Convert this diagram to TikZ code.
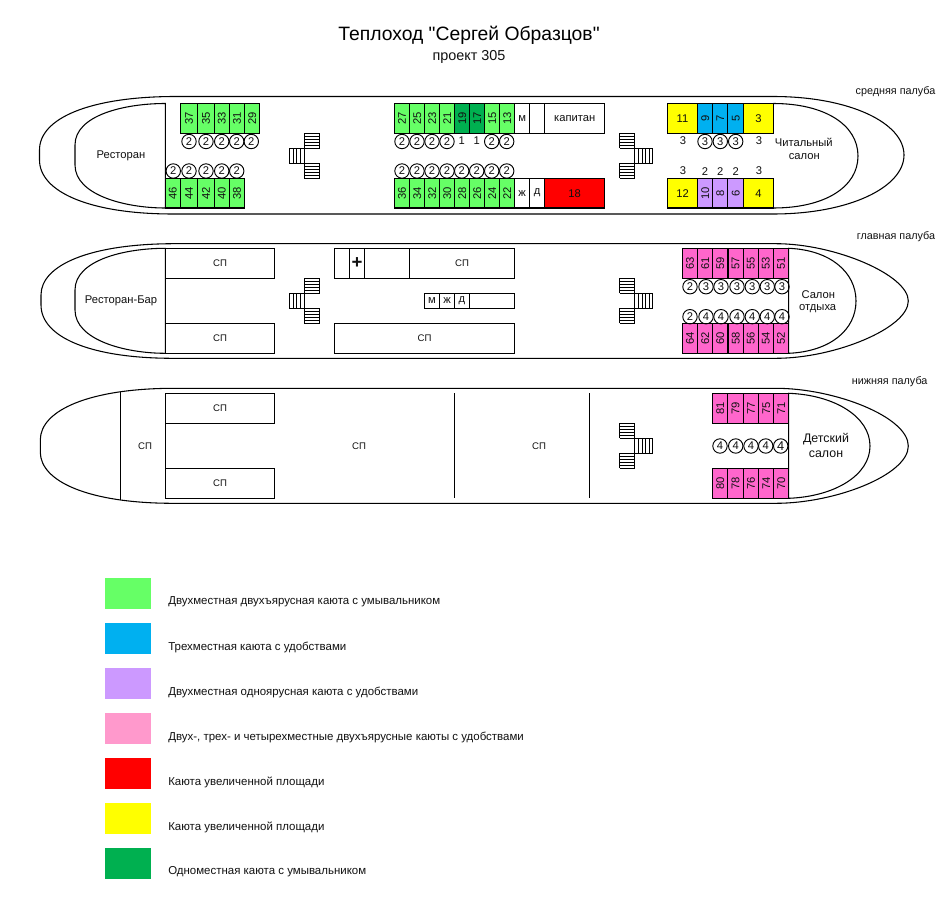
\documentclass[tikz,border=0pt]{standalone}
\usepackage{fontspec}
\setmainfont{Liberation Sans}
\newfontfamily\plainquotes{Liberation Sans}
\definecolor{cgreen}{HTML}{66FF66}
\definecolor{cdark}{HTML}{00B050}
\definecolor{cblue}{HTML}{00B0F0}
\definecolor{cviolet}{HTML}{CC99FF}
\definecolor{cpink}{HTML}{FF99CC}
\definecolor{cmag}{HTML}{FF66CC}
\definecolor{cred}{HTML}{FF0000}
\definecolor{cyel}{HTML}{FFFF00}
\definecolor{ink}{HTML}{111111}
\newcommand{\spt}{{\fontsize{7.2pt}{9pt}\selectfont СП}}
\tikzset{
  wall/.style={draw=black,line width=0.8pt},
  hull/.style={draw=black,line width=0.8pt},
  lbl/.style={inner sep=0pt,text=ink,font=\fontsize{8.4pt}{10pt}\selectfont,align=center},
  seat/.style={circle,draw=black,line width=0.7pt,minimum size=10.8pt,inner sep=0pt,text=ink,font=\fontsize{8.4pt}{10pt}\selectfont},
  deckname/.style={inner sep=0pt,text=ink,font=\fontsize{8.1pt}{10pt}\selectfont},
  legendtext/.style={inner sep=0pt,anchor=west,text=ink,font=\fontsize{8.6pt}{10pt}\selectfont},
  rung/.style={draw=black,line width=0.6pt},
}
% one cabin: name, x0, x1, y0, y1, fill, rotation, text
\newcommand{\cab}[8]{\draw[wall,fill=#6] (#2,#4) rectangle (#3,#5);
  \node[lbl,rotate=#7] (#1) at ({(#2+#3)/2},{(#4+#5)/2}) {#8};}
\newcommand{\stairL}[1]{% cross-run to the left
  \foreach \k in {0,1,2,3,4,5} {
    \draw[rung] (304.3,#1+\k*3) -- (319.7,#1+\k*3);
    \draw[rung] (304.3,#1+30+\k*3) -- (319.7,#1+30+\k*3);}
  \draw[rung] (304.3,#1) -- (304.3,#1+15) (319.7,#1) -- (319.7,#1+15);
  \draw[rung] (304.3,#1+30) -- (304.3,#1+45) (319.7,#1+30) -- (319.7,#1+45);
  \foreach \k in {0,1,2,3,4} {\draw[rung] (289.3+\k*3.75,#1+15) -- (289.3+\k*3.75,#1+30);}
  \draw[rung] (289.3,#1+15) -- (304.3,#1+15) (289.3,#1+30) -- (304.3,#1+30);}
\newcommand{\stairR}[1]{% cross-run to the right
  \foreach \k in {0,1,2,3,4,5} {
    \draw[rung] (619.5,#1+\k*3) -- (634.7,#1+\k*3);
    \draw[rung] (619.5,#1+30+\k*3) -- (634.7,#1+30+\k*3);}
  \draw[rung] (619.5,#1) -- (619.5,#1+15) (634.7,#1) -- (634.7,#1+15);
  \draw[rung] (619.5,#1+30) -- (619.5,#1+45) (634.7,#1+30) -- (634.7,#1+45);
  \foreach \k in {0,1,2,3,4,5} {\draw[rung] (634.7+\k*3.6,#1+15) -- (634.7+\k*3.6,#1+30);}
  \draw[rung] (634.7,#1+15) -- (652.7,#1+15) (634.7,#1+30) -- (652.7,#1+30);}
\begin{document}
\begin{tikzpicture}[x=0.75pt,y=-0.75pt]
\useasboundingbox (0,0) rectangle (939,924);
\fill[white] (0,0) rectangle (939,924);
% titles
\node[inner sep=0pt,text=black,font=\plainquotes\fontsize{14.5pt}{18pt}\selectfont] (title) at (469,35) {Теплоход "Сергей Образцов"};
\node[lbl,font=\fontsize{10.8pt}{12pt}\selectfont] (subtitle) at (469,57) {проект 305};
\node[deckname] (deck1) at (895.5,91.5) {средняя палуба};
\node[deckname] (deck2) at (896,236.5) {главная палуба};
\node[deckname] (deck3) at (889.7,381.5) {нижняя палуба};

% ---------- upper deck ----------
\draw[hull] (173,96.5) .. controls (90,97) and (39.5,118) .. (39.5,150) -- (39.5,160)
  .. controls (39.5,192) and (90,214) .. (173,214) -- (773,214)
  .. controls (850,214) and (904,187) .. (904,155)
  .. controls (904,123) and (850,96.5) .. (773,96.5) -- cycle;
\draw[wall] (165.3,103.5) .. controls (125,103.5) and (75,115) .. (75,145) -- (75,165)
  .. controls (75,195) and (125,208) .. (165.3,208) -- cycle;
\draw[wall] (773.3,103.5) .. controls (825,103.5) and (858,125) .. (858,156)
  .. controls (858,187) and (825,208) .. (773.3,208);
\node[lbl] (rest) at (121,156) {Ресторан};
\node[lbl] (read1) at (803.7,142) {Читальный};
\node[lbl] (read2) at (804.3,157) {салон};
\foreach \a/\b/\t in {180.3/197.7/37,197.7/214.3/35,214.3/229.3/33,229.3/244.7/31,244.7/259.7/29}
  {\cab{c\t}{\a}{\b}{103.5}{133.4}{cgreen}{90}{\t}}
\foreach \a/\b/\t in {165.3/180.3/46,180.3/197.7/44,197.7/214.3/42,214.3/229.3/40,229.3/244.7/38}
  {\cab{c\t}{\a}{\b}{178.3}{208}{cgreen}{90}{\t}}
\foreach \x/\t [count=\i] in {189/2,206/2,221.7/2,236.7/2,251.3/2} {\node[seat] (sa\i) at (\x,141.5) {\t};}
\foreach \x/\t [count=\i] in {173.3/2,189/2,206/2,221.7/2,236.7/2} {\node[seat] (sb\i) at (\x,171) {\t};}
\foreach \a/\b/\t/\c in {394.3/409.7/27/cgreen,409.7/424.7/25/cgreen,424.7/439.7/23/cgreen,439.7/454.7/21/cgreen,454.7/469.7/19/cdark,469.7/484.7/17/cdark,484.7/499.7/15/cgreen,499.7/514.7/13/cgreen}
  {\cab{c\t}{\a}{\b}{103.5}{133.4}{\c}{90}{\t}}
\foreach \a/\b/\t in {394.3/409.7/36,409.7/424.7/34,424.7/439.7/32,439.7/454.7/30,454.7/469.7/28,469.7/484.7/26,484.7/499.7/24,499.7/514.7/22}
  {\cab{c\t}{\a}{\b}{178.3}{208}{cgreen}{90}{\t}}
\cab{rm}{514.7}{529.7}{103.5}{133.4}{white}{0}{м}
\cab{rblank}{529.7}{544.7}{103.5}{133.4}{white}{0}{}
\cab{rcap}{544.7}{604.7}{103.5}{133.4}{white}{0}{капитан}
\cab{rzh}{514.7}{529.7}{178.3}{208}{white}{0}{ж}
\cab{rd}{529.7}{544.7}{178.3}{208}{white}{0}{д}
\cab{c18}{544.7}{604.7}{178.3}{208}{cred}{0}{18}
\foreach \x/\t [count=\i] in {402/2,417/2,432/2,447/2,491.7/2,506.7/2} {\node[seat] (sc\i) at (\x,141.5) {\t};}
\node[lbl] (one1) at (461.7,141) {1};
\node[lbl] (one2) at (476.7,141) {1};
\foreach \x [count=\i] in {402,417,432,447,461.7,476.7,491.7,506.7} {\node[seat] (sd\i) at (\x,171) {2};}
\cab{c11}{667.3}{697.7}{103.5}{133.4}{cyel}{0}{11}
\cab{c9}{697.7}{712.7}{103.5}{133.4}{cblue}{90}{9}
\cab{c7}{712.7}{727.7}{103.5}{133.4}{cblue}{90}{7}
\cab{c5}{727.7}{743.7}{103.5}{133.4}{cblue}{90}{5}
\cab{c3}{743.7}{773.3}{103.5}{133.4}{cyel}{0}{3}
\cab{c12}{667.3}{697.7}{178.3}{208}{cyel}{0}{12}
\cab{c10}{697.7}{712.7}{178.3}{208}{cviolet}{90}{10}
\cab{c8}{712.7}{727.7}{178.3}{208}{cviolet}{90}{8}
\cab{c6}{727.7}{743.7}{178.3}{208}{cviolet}{90}{6}
\cab{c4}{743.7}{773.3}{178.3}{208}{cyel}{0}{4}
\foreach \x [count=\i] in {705,720.3,735.7} {\node[seat] (se\i) at (\x,141.5) {3};}
\node[lbl] (n3a) at (683,140.5) {3};
\node[lbl] (n3b) at (759,140.5) {3};
\node[lbl] (n3c) at (683,170.5) {3};
\node[lbl] (n3d) at (759,170.5) {3};
\node[lbl] (n2a) at (705,171.5) {2};
\node[lbl] (n2b) at (720.3,171.5) {2};
\node[lbl] (n2c) at (735.7,171.5) {2};
\stairL{133.3}
\stairR{133.3}

% ---------- main deck ----------
\draw[hull] (173,243.7) .. controls (90,244) and (41,265) .. (41,295) -- (41,305)
  .. controls (41,337) and (90,358.3) .. (173,358.3) -- (776,358.3)
  .. controls (835,358.3) and (908.3,328) .. (908.3,301)
  .. controls (908.3,275) and (835,243.7) .. (776,243.7) -- cycle;
\draw[wall] (165.3,248.3) .. controls (125,248.3) and (75,260) .. (75,290) -- (75,310)
  .. controls (75,340) and (125,353.3) .. (165.3,353.3) -- cycle;
\draw[wall] (788.7,248.3) .. controls (830,250) and (856,272) .. (856,301)
  .. controls (856,330) and (830,351.5) .. (788.7,353.3) -- cycle;
\node[lbl] (bar) at (121,301) {Ресторан-Бар};
\cab{sp1}{165.3}{274.7}{248.3}{278.3}{white}{0}{\spt}
\cab{sp2}{165.3}{274.7}{323.3}{353.3}{white}{0}{\spt}
\cab{m1}{334.3}{349.7}{248.3}{278.3}{white}{0}{}
\cab{m2}{349.7}{364.3}{248.3}{278.3}{white}{0}{\textbf{\fontsize{14pt}{14pt}\selectfont +}}
\cab{m3}{364.3}{409.3}{248.3}{278.3}{white}{0}{}
\cab{sp3}{409.3}{514.7}{248.3}{278.3}{white}{0}{\spt}
\cab{sp4}{334.3}{514.7}{323.3}{353.3}{white}{0}{\spt}
\cab{wm}{424.3}{439.7}{293.3}{308.3}{white}{0}{м}
\cab{wz}{439.7}{454.3}{293.3}{308.3}{white}{0}{ж}
\cab{wd}{454.3}{469.3}{293.3}{308.3}{white}{0}{д}
\cab{wx}{469.3}{514.7}{293.3}{308.3}{white}{0}{}
\foreach \a/\b/\t/\u in {682.3/697.7/63/64,697.7/712.7/61/62,712.7/728/59/60,728/743.3/57/58,743.3/758.3/55/56,758.3/773.3/53/54,773.3/788.7/51/52}
  {\cab{c\t}{\a}{\b}{248.3}{278.3}{cmag}{90}{\t}
   \cab{c\u}{\a}{\b}{323.3}{353.3}{cmag}{90}{\u}}
\foreach \x/\t [count=\i] in {690/2,706/3,721/3,737/3,752.3/3,767.3/3,782/3} {\node[seat] (sf\i) at (\x,286.7) {\t};}
\foreach \x/\t [count=\i] in {690/2,706/4,721/4,737/4,752.3/4,767.3/4,782/4} {\node[seat] (sg\i) at (\x,316.7) {\t};}
\node[lbl] (rest1) at (818.3,294.3) {Салон};
\node[lbl] (rest2) at (817.7,309) {отдыха};
\stairL{278.3}
\stairR{278.3}

% ---------- lower deck ----------
\draw[hull] (173,388.3) .. controls (90,388.5) and (40.3,410) .. (40.3,440) -- (40.3,452)
  .. controls (40.3,482) and (90,503.3) .. (173,503.3) -- (776,503.3)
  .. controls (835,503.3) and (908.3,475) .. (908.3,446)
  .. controls (908.3,417) and (835,388.3) .. (776,388.3) -- cycle;
\coordinate (k1) at (120.7,392.3);
\coordinate (k2) at (120.7,499.5);
\draw[wall] (k1) -- (k2);
\draw[wall] (788.7,393.3) .. controls (835,395) and (870,417) .. (870,446)
  .. controls (870,475) and (835,496.5) .. (788.7,498.3) -- cycle;
\coordinate (w1) at (165.3,393.3);
\coordinate (w2) at (165.3,498.3);
\draw[wall] (w1) -- (w2);
\cab{sp5}{165.3}{274.7}{393.3}{423.3}{white}{0}{\spt}
\cab{sp6}{165.3}{274.7}{468.3}{498.3}{white}{0}{\spt}
\node[lbl] (sp7) at (145,446) {\spt};
\node[lbl] (sp8) at (359,446) {\spt};
\node[lbl] (sp9) at (539,446) {\spt};
\coordinate (b1) at (454.5,393.3);
\coordinate (b2) at (454.5,498.3);
\coordinate (b3) at (589.5,393.3);
\coordinate (b4) at (589.5,498.3);
\draw[wall] (b1) -- (b2) (b3) -- (b4);
\foreach \a/\b/\t/\u in {712.7/727.7/81/80,727.7/743.3/79/78,743.3/758.7/77/76,758.7/773.7/75/74,773.7/788.7/71/70}
  {\cab{c\t}{\a}{\b}{393.3}{423.3}{cmag}{90}{\t}
   \cab{c\u}{\a}{\b}{468.3}{498.3}{cmag}{90}{\u}}
\foreach \x [count=\i] in {720,735.7,751,765.7} {\node[seat] (sh\i) at (\x,446) {4};}
\node[seat,font=\fontsize{9.6pt}{10pt}\selectfont] (sh5) at (780.7,446) {4};
\node[lbl,font=\fontsize{9.3pt}{11pt}\selectfont] (kid1) at (826,438.8) {Детский};
\node[lbl,font=\fontsize{9.3pt}{11pt}\selectfont] (kid2) at (826,454.5) {салон};
\stairR{423.3}

% ---------- legend ----------
\foreach \c/\t [count=\i from 0] in {
  cgreen/Двухместная двухъярусная каюта с умывальником,
  cblue/Трехместная каюта с удобствами,
  cviolet/Двухместная одноярусная каюта с удобствами,
  cpink/{Двух-, трех- и четырехместные двухъярусные каюты с удобствами},
  cred/Каюта увеличенной площади,
  cyel/Каюта увеличенной площади,
  cdark/Одноместная каюта с умывальником} {
  \fill[\c] (105,578+\i*45) rectangle (151,609+\i*45);
  \node[legendtext] (leg\i) at (168,602+\i*45) {\t};
}
\end{tikzpicture}
\end{document}
